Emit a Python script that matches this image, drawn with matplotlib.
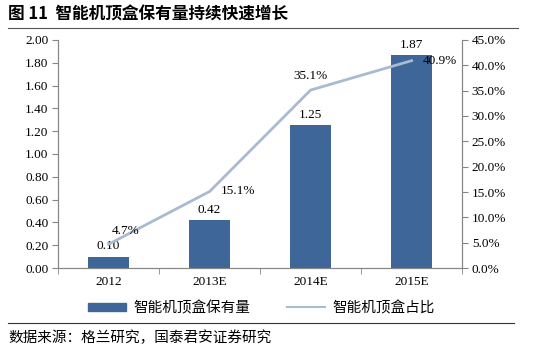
import matplotlib
matplotlib.use('Agg')
import matplotlib.pyplot as plt
from matplotlib.lines import Line2D
from matplotlib.patches import Patch
import numpy as np

plt.rcParams['font.family'] = ['Liberation Serif', 'Noto Sans CJK SC', 'DejaVu Sans']

categories = ['2012', '2013E', '2014E', '2015E']
stb_units = [0.10, 0.42, 1.25, 1.87]       # 智能机顶盒保有量
stb_share = [4.7, 15.1, 35.1, 40.9]        # 智能机顶盒占比 (%)
bar_labels = ['0.10', '0.42', '1.25', '1.87']
share_labels = ['4.7%', '15.1%', '35.1%', '40.9%']
left_ticks = [0, 0.2, 0.4, 0.6, 0.8, 1.0, 1.2, 1.4, 1.6, 1.8, 2.0]
right_ticks = [0, 5, 10, 15, 20, 25, 30, 35, 40, 45]

bar_color = '#3e6698'
line_color = '#a9bad1'
axis_color = '#868686'
cjk = ['Noto Sans CJK SC', 'DejaVu Sans']
fs = 9.5

fig = plt.figure(figsize=(5.33, 3.56), dpi=100)
ax = fig.add_axes([0.109, 0.247, 0.758, 0.641])
ax2 = ax.twinx()

x = np.arange(len(categories))
ax.bar(x, stb_units, width=0.4, color=bar_color, zorder=2)
ax.set_xlim(-0.5, len(categories) - 0.5)
ax.set_ylim(0, 2.0)
ax.set_yticks(left_ticks)
ax.set_yticklabels(['%.2f' % v for v in left_ticks], fontsize=fs)
ax.set_xticks(x)
ax.set_xticklabels(categories, fontsize=fs)
ax.set_xticks(np.arange(-0.5, len(categories)), minor=True)
ax.tick_params(axis='x', which='major', length=0, pad=6)
ax.tick_params(axis='x', which='minor', length=4, color=axis_color, direction='out')
ax.tick_params(axis='y', length=4, color=axis_color, direction='out', pad=3)

for i, v in enumerate(stb_units):
    ax.annotate(bar_labels[i], (x[i], v), xytext=(0, 3), textcoords='offset points',
                ha='center', va='bottom', fontsize=fs)

ax2.plot(x, stb_share, color=line_color, lw=2, zorder=3)
ax2.set_ylim(0, 45)
ax2.set_yticks(right_ticks)
ax2.set_yticklabels(['%.1f%%' % v for v in right_ticks], fontsize=fs)
ax2.tick_params(axis='y', length=4, color=axis_color, direction='out', pad=3)

offsets = [(12, 5, 'center', 'bottom'), (8, 0, 'left', 'center'),
           (0, 6, 'center', 'bottom'), (8, 0, 'left', 'center')]
for i, v in enumerate(stb_share):
    dx, dy, ha, va = offsets[i]
    ax2.annotate(share_labels[i], (x[i], v), xytext=(dx, dy), textcoords='offset points',
                 ha=ha, va=va, fontsize=fs)

for a in (ax, ax2):
    a.spines['top'].set_visible(False)
    for s in ('left', 'right', 'bottom'):
        a.spines[s].set_color(axis_color)
        a.spines[s].set_linewidth(0.8)

handles = [Patch(color=bar_color), Line2D([0], [0], color=line_color, lw=1.5)]
fig.legend(handles, ['智能机顶盒保有量', '智能机顶盒占比'], loc='center',
           bbox_to_anchor=(0.49, 0.135), ncol=2, frameon=False,
           prop={'family': cjk, 'size': 10.5}, handlelength=2.6, handleheight=0.5,
           columnspacing=2.5, handletextpad=0.5)

fig.text(0.015, 0.96, '图 11  智能机顶盒保有量持续快速增长', fontsize=12,
         fontweight='bold', family=cjk, va='center')
fig.add_artist(Line2D([0.015, 0.972], [0.921, 0.921], color='#555555', lw=0.8))
fig.add_artist(Line2D([0.015, 0.965], [0.093, 0.093], color='#333333', lw=0.8))
fig.text(0.015, 0.052, '数据来源：格兰研究，国泰君安证券研究', fontsize=10.5,
         family=cjk, va='center')

fig.savefig('out.png', dpi=100)
